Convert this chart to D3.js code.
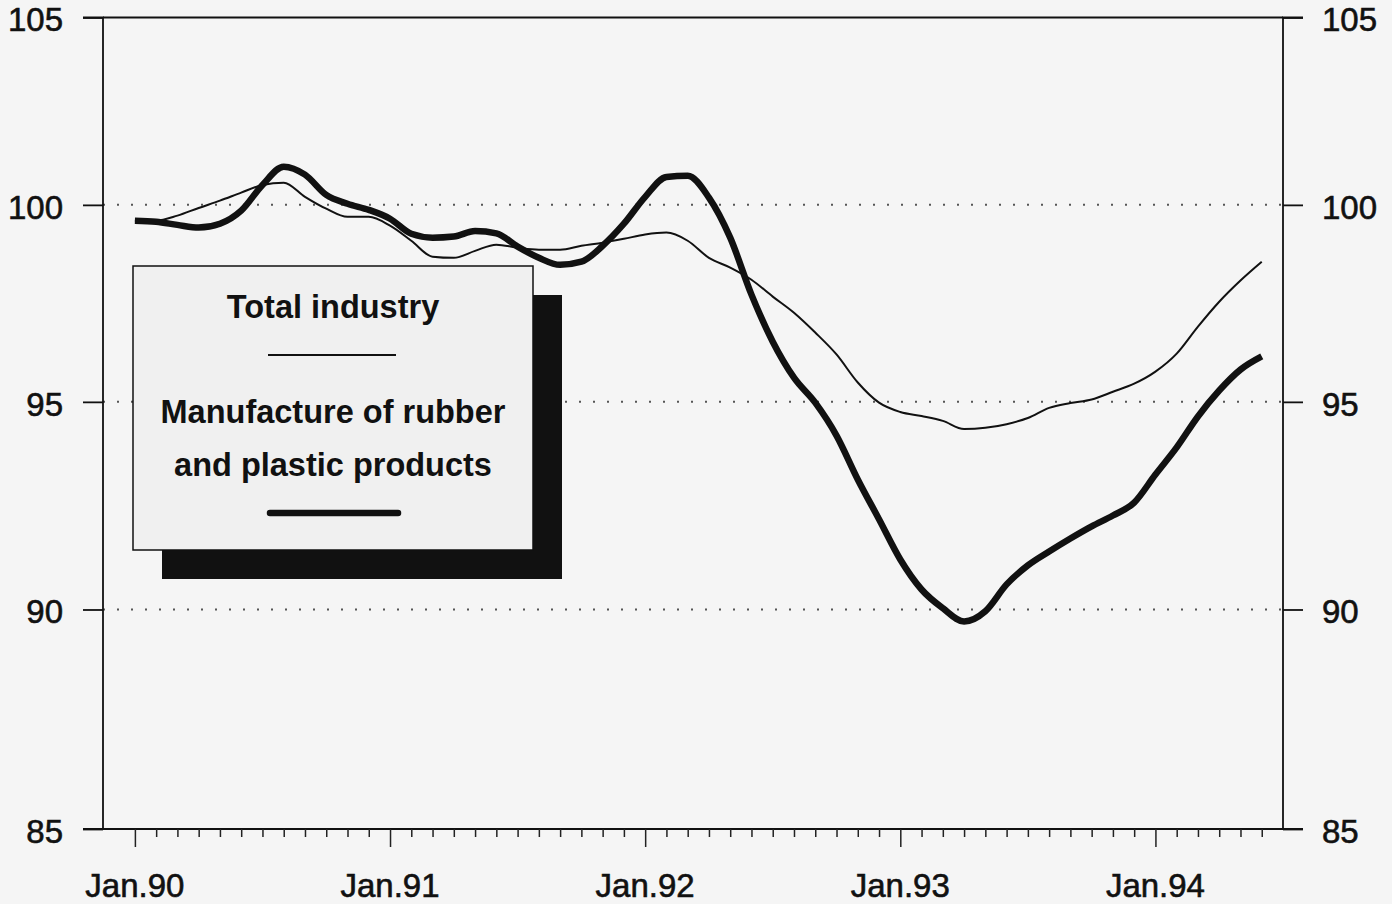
<!DOCTYPE html>
<html>
<head>
<meta charset="utf-8">
<script src="https://cdn.jsdelivr.net/npm/d3@7"></script>
<style>
  html, body { margin: 0; padding: 0; background: #f5f5f5; }
  svg { display: block; }
  text { font-family: "Liberation Sans", Arial, Helvetica, sans-serif; fill: #111; }
</style>
</head>
<body>
<svg id="chart" width="1392" height="904"></svg>
<script>
// Monthly index, January 1990 = 0 ... June 1994 = 53
const startYear = 1990;
const monthCount = 54;

// Total industry (index)
const totalIndustry = [
  99.59, 99.59, 99.72, 99.92, 100.11, 100.32, 100.52, 100.58, 100.21, 99.90,
  99.69, 99.69, 99.46, 99.07, 98.66, 98.63, 98.81, 98.97, 98.89, 98.84,
  98.84, 98.94, 99.02, 99.12, 99.23, 99.28, 99.07, 98.63, 98.38, 98.07,
  97.64, 97.23, 96.73, 96.18, 95.48, 94.98, 94.75, 94.65, 94.53, 94.33,
  94.36, 94.45, 94.60, 94.85, 94.97, 95.06, 95.25, 95.45, 95.75, 96.20,
  96.88, 97.51, 98.05, 98.53
];

// Manufacture of rubber and plastic products (index)
const rubberPlastics = [
  99.59, 99.56, 99.48, 99.41, 99.51, 99.85, 100.52, 101.00, 100.79, 100.26,
  100.03, 99.87, 99.64, 99.25, 99.15, 99.18, 99.32, 99.26, 98.92, 98.63,
  98.45, 98.53, 98.94, 99.51, 100.21, 100.73, 100.76, 100.19, 99.15, 97.69,
  96.50, 95.60, 94.98, 94.17, 93.10, 92.14, 91.18, 90.47, 90.03, 89.72,
  89.96, 90.59, 91.04, 91.37, 91.68, 91.97, 92.23, 92.54, 93.22, 93.88,
  94.64, 95.28, 95.80, 96.13
];

const yTicks = [85, 90, 95, 100, 105];
const yGrid = [90, 95, 100];
const xTickLabels = ["Jan.90", "Jan.91", "Jan.92", "Jan.93", "Jan.94"];
const legendLabels = ["Total industry", "Manufacture of rubber", "and plastic products"];

const svg = d3.select("#chart");

const plot = { left: 103, right: 1283, top: 17.5, bottom: 829 };

const x = d3.scaleLinear().domain([-1.5, 54]).range([plot.left, plot.right]);
const y = d3.scaleLog().domain([85, 105]).range([plot.bottom, plot.top]);

// dotted horizontal grid
svg.append("g").selectAll("line").data(yGrid).join("line")
  .attr("x1", plot.left).attr("x2", plot.right)
  .attr("y1", d => y(d)).attr("y2", d => y(d))
  .attr("stroke", "#555").attr("stroke-width", 2)
  .attr("stroke-dasharray", "2,12");

// left and right value axes
const leftAxis = d3.axisLeft(y).tickValues(yTicks).tickSize(20).tickPadding(20)
  .tickFormat(d3.format("d"));
const rightAxis = d3.axisRight(y).tickValues(yTicks).tickSize(20).tickPadding(19)
  .tickFormat(d3.format("d"));

function styleAxis(g) {
  g.select(".domain").attr("stroke", "#111").attr("stroke-width", 1.8);
  g.selectAll(".tick line").attr("stroke", "#111").attr("stroke-width", 1.8);
  g.selectAll(".tick text").style("font-size", "33px").attr("fill", "#111")
    .attr("stroke", "#111").attr("stroke-width", 0.6)
    .attr("dy", "0.40em");
}

svg.append("g").attr("transform", `translate(${plot.left},0)`).call(leftAxis)
  .call(g => g.select(".domain").attr("d", `M-20,${plot.top}H0V${plot.bottom}H-20`))
  .call(styleAxis);
svg.append("g").attr("transform", `translate(${plot.right},0)`).call(rightAxis)
  .call(g => g.select(".domain").attr("d", `M20,${plot.top}H0V${plot.bottom}H20`))
  .call(styleAxis);

// top frame line
svg.append("line").attr("x1", plot.left).attr("x2", plot.right)
  .attr("y1", plot.top).attr("y2", plot.top).attr("stroke", "#111").attr("stroke-width", 1.8);

// time axis: monthly minor ticks, longer ticks each January
const monthIdx = d3.range(monthCount);
const xAxis = d3.axisBottom(x).tickValues(monthIdx)
  .tickSize(0).tickFormat("");
svg.append("g").attr("transform", `translate(0,${plot.bottom})`).call(xAxis)
  .call(g => g.select(".domain").attr("d", `M${plot.left},0H${plot.right}`)
    .attr("stroke", "#111").attr("stroke-width", 1.8))
  .call(g => g.selectAll(".tick line")
    .attr("y2", d => d % 12 === 0 ? 18 : 8)
    .attr("stroke", "#222").attr("stroke-width", 1.5));

svg.append("g").selectAll("text").data(xTickLabels).join("text")
  .attr("x", (d, i) => x(i * 12))
  .attr("y", 897)
  .attr("text-anchor", "middle")
  .style("font-size", "33px")
  .attr("stroke", "#111").attr("stroke-width", 0.6)
  .text(d => d);

// series lines
const line = d3.line()
  .x((d, i) => x(i))
  .y(d => y(d))
  .curve(d3.curveMonotoneX);

svg.append("path").datum(totalIndustry)
  .attr("d", line).attr("fill", "none")
  .attr("stroke", "#111").attr("stroke-width", 2);

svg.append("path").datum(rubberPlastics)
  .attr("d", line).attr("fill", "none")
  .attr("stroke", "#111").attr("stroke-width", 6.5)
  .attr("stroke-linejoin", "round");

// legend with drop shadow
const lg = svg.append("g");
const box = { x: 133, y: 266, w: 400, h: 284, off: 29 };
lg.append("rect")
  .attr("x", box.x + box.off).attr("y", box.y + box.off)
  .attr("width", box.w).attr("height", box.h)
  .attr("fill", "#111");
lg.append("rect")
  .attr("x", box.x).attr("y", box.y)
  .attr("width", box.w).attr("height", box.h)
  .attr("fill", "#f0f0f0").attr("stroke", "#111").attr("stroke-width", 1.5);

const cx = box.x + box.w / 2;
const legendFont = "32.5px";
lg.append("text").attr("x", cx).attr("y", 318).attr("text-anchor", "middle")
  .style("font-size", legendFont).style("font-weight", "bold").text(legendLabels[0]);
lg.append("line").attr("x1", 268).attr("x2", 396).attr("y1", 355).attr("y2", 355)
  .attr("stroke", "#111").attr("stroke-width", 2);
lg.append("text").attr("x", cx).attr("y", 423).attr("text-anchor", "middle")
  .style("font-size", legendFont).style("font-weight", "bold").text(legendLabels[1]);
lg.append("text").attr("x", cx).attr("y", 476).attr("text-anchor", "middle")
  .style("font-size", legendFont).style("font-weight", "bold").text(legendLabels[2]);
lg.append("line").attr("x1", 270).attr("x2", 398).attr("y1", 513).attr("y2", 513)
  .attr("stroke", "#111").attr("stroke-width", 6.5).attr("stroke-linecap", "round");
</script>
</body>
</html>
